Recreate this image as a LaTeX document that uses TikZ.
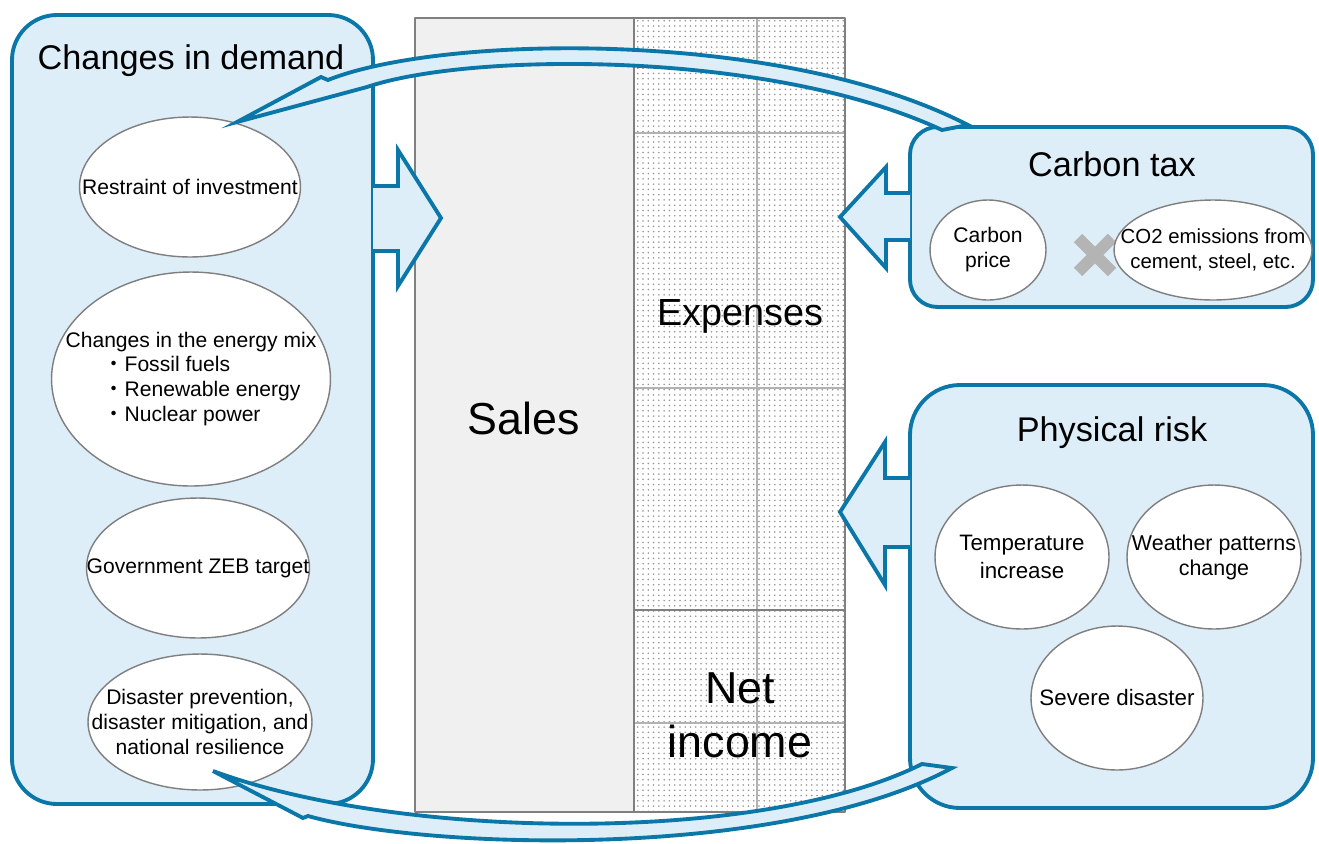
\documentclass[tikz,border=0pt]{standalone}
\usepackage{fontspec}
\setmainfont{Liberation Sans}
\newfontfamily\cjk{Noto Sans CJK JP}
\usepackage{tikz}
\usetikzlibrary{calc,patterns,shapes.geometric}
\definecolor{edge}{HTML}{0B77A9}
\definecolor{pale}{HTML}{DDEEF9}
\definecolor{barfill}{HTML}{F0F0F0}
\definecolor{barline}{HTML}{808080}
\definecolor{ringline}{HTML}{7F7F7F}
\definecolor{xgray}{HTML}{B4B4B4}

\begin{document}
\begin{tikzpicture}[x=0.02cm, y=-0.02cm, line join=round,
  panel/.style={draw=edge, fill=pale, line width=2.2pt},
  bubble/.style={ellipse, draw=ringline, fill=white, line width=0.8pt, inner sep=0pt},
  bubtext/.style={align=center, inner sep=0pt, font=\fontsize{12}{14.2}\selectfont},
  heading/.style={font=\fontsize{19.5}{23}\selectfont},
  barlabel/.style={font=\fontsize{25.5}{30.6}\selectfont, align=center},
  flow/.style={draw=edge, fill=pale, line width=2.2pt, line join=miter}]
  \useasboundingbox (0,0) rectangle (1319,843);

  % the bar: sales | expenses over net income
  \fill[barfill] (415,18) rectangle (634,812);
  \fill[white] (634,18) rectangle (845,812);
  \fill[pattern=dots, pattern color=gray!85] (634,18) rectangle (845,812);
  \draw[gray!60, line width=0.6pt] (757,18) -- (757,812);
  \foreach \yy in {133,388,723}{\draw[gray!60, line width=0.6pt] (634,\yy) -- (845,\yy);}
  \draw[barline, line width=1.4pt] (634,18) -- (634,812);
  \draw[barline, line width=1.6pt] (634,610) -- (845,610);
  \draw[barline, line width=1.4pt] (415,18) rectangle (845,812);
  \node[barlabel] (sales) at (524,418) {Sales};
  \node[font=\fontsize{21.5}{26}\selectfont] (expenses) at (740,316) {Expenses};
  \node[barlabel] (netincome) at (740,715) {Net\\income};

  % panels
  \draw[panel, rounded corners=0.9cm] (12,15) rectangle (373,804);
  \draw[panel, rounded corners=0.55cm] (910,127) rectangle (1313,307);
  \draw[panel, rounded corners=1.0cm] (910,385) rectangle (1313,808);
  \node[heading] (demandtitle) at (191,61) {Changes in demand};
  \node[heading] (taxtitle) at (1112,164) {Carbon tax};
  \node[heading] (risktitle) at (1112,433) {Physical risk};

  % changes in demand
  \node[bubble, minimum width=4.42cm, minimum height=2.8cm] (invest) at (190,187) {};
  \node[bubtext] (investtext) at (invest) {Restraint of investment};
  \node[bubble, minimum width=5.58cm, minimum height=4.28cm] (mix) at (191,379) {};
  \node[bubtext, align=left] (mixtext) at (mix)
    {Changes in the energy mix\\\hspace*{1.8em}{\cjk ・}Fossil fuels\\\hspace*{1.8em}{\cjk ・}Renewable energy\\\hspace*{1.8em}{\cjk ・}Nuclear power};
  \node[bubble, minimum width=4.46cm, minimum height=2.8cm] (zeb) at (198,568) {};
  \node[bubtext] (zebtext) at (zeb) {Government ZEB target};
  \node[bubble, minimum width=4.48cm, minimum height=2.72cm] (resilience) at (200,722) {};
  \node[bubtext] (resiliencetext) at (resilience) {Disaster prevention,\\disaster mitigation, and\\national resilience};

  % carbon tax
  \node[bubble, minimum width=2.32cm, minimum height=2cm] (price) at (988,250) {};
  \node[bubtext] (pricetext) at (price) {Carbon\\price};
  \draw[xgray, line width=6.8pt] (1078,238) -- (1112,272) (1078,272) -- (1112,238);
  \node[bubble, minimum width=3.96cm, minimum height=2cm] (co2) at (1213,250) {};
  \node[bubtext, font=\fontsize{11.6}{14.2}\selectfont] (co2text) at (co2) {CO2 emissions from\\cement, steel, etc.};

  % physical risk
  \node[bubble, minimum width=3.48cm, minimum height=2.88cm] (temp) at (1022,557) {};
  \node[bubtext, font=\fontsize{12.7}{15.9}\selectfont] (temptext) at (temp) {Temperature\\increase};
  \node[bubble, minimum width=3.48cm, minimum height=2.88cm] (weather) at (1214,557) {};
  \node[bubtext, font=\fontsize{12.2}{14.2}\selectfont] (weathertext) at (weather) {Weather patterns\\change};
  \node[bubble, minimum width=3.44cm, minimum height=2.88cm] (severe) at (1117,698) {};
  \node[bubtext, font=\fontsize{12.7}{15.9}\selectfont] (severetext) at (severe) {Severe disaster};

  % block arrows into the bar
  \draw[flow] (373,186) -- (398,186) -- (398,150) -- (441,218) -- (398,286) -- (398,251) -- (373,251);
  \draw[flow] (910,193) -- (886,193) -- (886,167) -- (840,217) -- (886,268) -- (886,240) -- (910,240);
  \draw[flow] (910,478) -- (885,478) -- (885,442) -- (840,512) -- (885,585) -- (885,547) -- (910,547);

  % curved arrows back to demand
  \draw[flow] (968,125) .. controls (780,28) and (440,35) .. (328,80) -- (321,77) -- (237,122)
    -- (367,87) .. controls (470,52) and (770,50) .. (942,130) -- cycle;
  \draw[flow] (952,768) .. controls (780,860) and (430,850) .. (308,816) -- (303,818) -- (213,771)
    .. controls (400,840) and (760,845) .. (922,764) -- cycle;
\end{tikzpicture}
\end{document}
